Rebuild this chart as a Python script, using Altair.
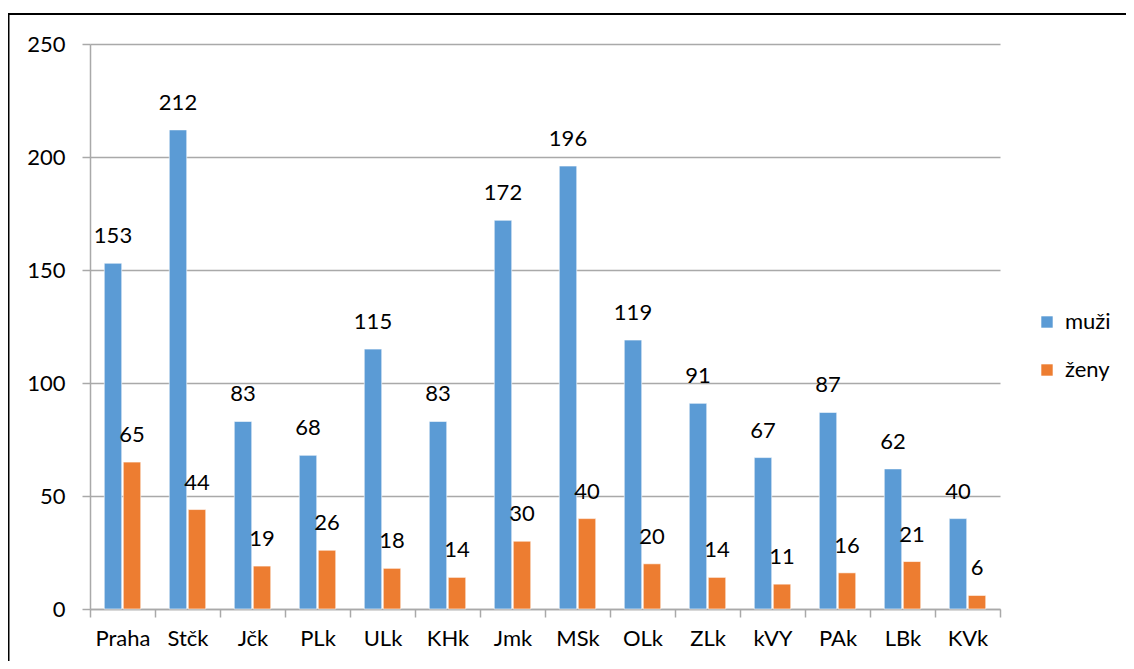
import altair as alt
import pandas as pd

regions = ["Praha", "Stčk", "Jčk", "PLk", "ULk", "KHk", "Jmk", "MSk", "OLk", "ZLk", "kVY", "PAk", "LBk", "KVk"]
muzi = [153, 212, 83, 68, 115, 83, 172, 196, 119, 91, 67, 87, 62, 40]
zeny = [65, 44, 19, 26, 18, 14, 30, 40, 20, 14, 11, 16, 21, 6]
series = ["muži", "ženy"]
colors = ["#5B9BD5", "#ED7D31"]
y_ticks = [0, 50, 100, 150, 200, 250]

rows = []
for r, m, z in zip(regions, muzi, zeny):
    rows.append({"region": r, "series": series[0], "value": m})
    rows.append({"region": r, "series": series[1], "value": z})
df = pd.DataFrame(rows)

FONT = "Lato"
FS = 22
GRID = "#A9A9A9"

base = alt.Chart(df).encode(
    x=alt.X(
        "region:N",
        sort=regions,
        scale=alt.Scale(paddingInner=0, paddingOuter=0),
        axis=alt.Axis(
            title=None,
            labelAngle=0,
            grid=False,
            tickBand="extent",
            tickSize=8,
            tickColor=GRID,
            tickWidth=1.5,
            domainColor=GRID,
            domainWidth=1.5,
            labelFont=FONT,
            labelFontSize=FS,
            labelColor="black",
            labelPadding=11,
        ),
    ),
    xOffset=alt.XOffset(
        "series:N",
        sort=series,
        scale=alt.Scale(paddingInner=0.08, paddingOuter=0.75),
    ),
    y=alt.Y(
        "value:Q",
        scale=alt.Scale(domain=[0, 250], nice=False),
        axis=alt.Axis(
            title=None,
            values=y_ticks,
            grid=True,
            gridColor=GRID,
            gridWidth=1.5,
            tickSize=8,
            tickColor=GRID,
            tickWidth=1.5,
            domainColor=GRID,
            domainWidth=1.5,
            labelFont=FONT,
            labelFontSize=FS,
            labelColor="black",
            labelPadding=17,
        ),
    ),
)

bars = base.mark_bar(stroke="white", strokeWidth=0.6).encode(
    color=alt.Color(
        "series:N",
        sort=series,
        scale=alt.Scale(domain=series, range=colors),
        legend=alt.Legend(
            title=None,
            orient="none",
            legendX=946,
            legendY=267,
            symbolType="square",
            symbolSize=130,
            symbolStrokeWidth=0,
            labelFont=FONT,
            labelFontSize=FS,
            labelColor="black",
            labelOffset=7,
            rowPadding=26,
            padding=0,
        ),
    )
)

labels = base.mark_text(dy=-27, font=FONT, fontSize=FS, color="black").encode(
    text="value:Q"
)

frame = alt.Chart(alt.Data(values=[{}])).mark_rect(
    fill="transparent", stroke="black", strokeWidth=2
).encode(
    x=alt.value(-81.5), x2=alt.value(3000), y=alt.value(-30), y2=alt.value(3000)
)

chart = alt.layer(frame, bars, labels).properties(
    width=910,
    height=565,
    autosize=alt.AutoSizeParams(type="none"),
    padding={"left": 82, "top": 36, "right": 126, "bottom": 52},
).configure_view(stroke=None)

chart.save("out.html", embed_options={"renderer": "svg", "actions": False})
